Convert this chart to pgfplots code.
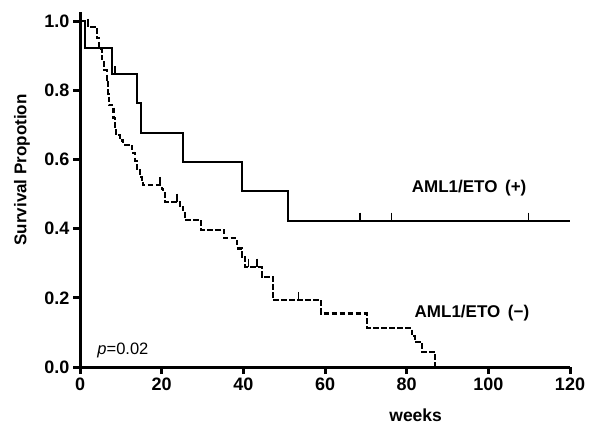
\documentclass[border=0pt]{standalone}
\usepackage{pgfplots}
\pgfplotsset{compat=1.18}
\usepackage{fontspec}
\setmainfont{Liberation Sans}

\begin{document}
\begin{tikzpicture}
\begin{axis}[
    scale only axis, width=490pt, height=354.7pt,
    xmin=0, xmax=120, ymin=0, ymax=1.025,
    axis lines=left, axis line style={line width=3pt, -},
    xtick={0,20,40,60,80,100,120},
    ytick={0,0.2,0.4,0.6,0.8,1.0},
    tick align=outside, major tick length=7pt,
    every tick/.style={line width=3pt, black},
    tick label style={font=\fontsize{18}{20}\selectfont\bfseries},
    /pgf/number format/assume math mode=true,
    yticklabel style={/pgf/number format/.cd, fixed, fixed zerofill, precision=1},
    clip=false,
]
% AML1/ETO (+)
\addplot[const plot, black, line width=2pt] coordinates {
    (0,1.0)(1.2,0.923)(7.8,0.846)(13.9,0.762)(14.9,0.677)(25.3,0.593)
    (39.6,0.508)(51.0,0.423)(120,0.423)};
\addplot[only marks, mark=|, mark size=4pt, mark options={line width=1.5pt}, black]
    coordinates {(8.6,0.858)(68.6,0.435)(76.3,0.435)(109.8,0.435)};
% AML1/ETO (-)
\addplot[const plot, black, line width=2.1pt, dash pattern=on 5.5pt off 2.5pt] coordinates {
    (0,1.0)(1.9,0.983)(4.1,0.95)(4.7,0.92)(5.3,0.89)(5.9,0.86)(6.5,0.83)
    (6.8,0.79)(7.0,0.757)(8.2,0.72)(8.5,0.69)(8.8,0.67)(9.8,0.655)(10.6,0.642)
    (12.7,0.63)(13.1,0.618)(13.5,0.595)(13.9,0.569)(14.7,0.55)(15.1,0.538)
    (15.5,0.526)(20.0,0.514)(20.4,0.502)(20.8,0.478)(24.5,0.463)(25.3,0.444)
    (25.7,0.425)(29.6,0.396)(35.3,0.372)(38.4,0.355)(38.8,0.343)(39.6,0.319)
    (40.4,0.29)(44.5,0.261)(47.2,0.194)(59.0,0.155)(70.2,0.113)(81.2,0.09)
    (82.0,0.073)(83.7,0.044)(86.9,0)};
\addplot[only marks, mark=|, mark size=4pt, mark options={line width=1.5pt}, black]
    coordinates {(2.0,0.995)(19.6,0.538)(23.7,0.490)(41.2,0.302)(43.3,0.302)(53.5,0.206)};

\node[anchor=west, font=\fontsize{17}{20}\selectfont\bfseries] at (axis cs:80.4,0.516) {AML1/ETO\hspace{0.45em}(+)};
\node[anchor=west, font=\fontsize{17}{20}\selectfont\bfseries] at (axis cs:81.1,0.155) {AML1/ETO\hspace{0.45em}(−)};
\node[anchor=west, font=\fontsize{16.5}{20}\selectfont] at (axis cs:3.4,0.049) {\textit{p}=0.02};
\node[font=\fontsize{17.5}{20}\selectfont\bfseries] at (axis cs:82.2,-0.139) {weeks};
\node[rotate=90, font=\fontsize{17}{20}\selectfont\bfseries] at (axis cs:-14.2,0.57) {Survival Propotion};
\path (axis cs:-19.6,-0.179) rectangle (axis cs:127.1,1.061);
\end{axis}
\end{tikzpicture}
\end{document}
